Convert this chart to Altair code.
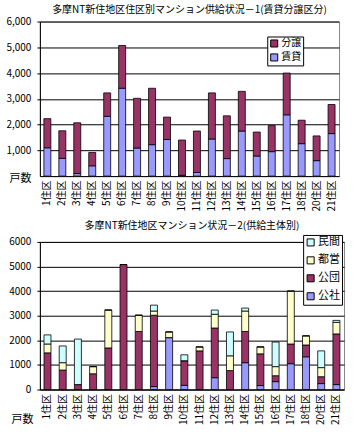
import altair as alt
import pandas as pd

districts = ["1住区", "2住区", "3住区", "4住区", "5住区", "6住区", "7住区", "8住区", "9住区", "10住区",
             "11住区", "12住区", "13住区", "14住区", "15住区", "16住区", "17住区", "18住区", "20住区", "21住区"]

# Chart 1: rental / for-sale
rental = [1100, 690, 100, 400, 2320, 3410, 1090, 1220, 1420, 30, 140, 1440, 680, 1750, 780, 950, 2380, 1260, 600, 1650]
sale = [1130, 1070, 1970, 520, 910, 1660, 1930, 2190, 870, 1370, 1610, 1790, 1660, 1540, 930, 1010, 1620, 910, 960, 1130]

# Chart 2: by supplier
kosha = [0, 0, 0, 0, 0, 0, 0, 120, 2110, 170, 0, 480, 0, 1090, 160, 320, 1050, 1330, 240, 200]
kodan = [1490, 790, 200, 640, 1690, 5080, 2360, 2900, 0, 1000, 1570, 2020, 770, 1270, 1290, 240, 800, 480, 280, 2060]
toei = [360, 300, 0, 290, 1540, 0, 660, 170, 230, 0, 160, 560, 600, 830, 280, 370, 2150, 370, 370, 470]
minkan = [370, 680, 1850, 0, 0, 0, 0, 240, 0, 240, 0, 170, 970, 120, 0, 1000, 0, 0, 680, 80]

FONT = "Noto Sans CJK JP"

rows1 = []
for i, d in enumerate(districts):
    rows1.append({"住区": d, "区分": "賃貸", "戸数": rental[i], "ord": 0})
    rows1.append({"住区": d, "区分": "分譲", "戸数": sale[i], "ord": 1})
df1 = pd.DataFrame(rows1)

rows2 = []
for i, d in enumerate(districts):
    for k, (name, arr) in enumerate([("公社", kosha), ("公団", kodan), ("都営", toei), ("民間", minkan)]):
        rows2.append({"住区": d, "主体": name, "戸数": arr[i], "ord": k})
df2 = pd.DataFrame(rows2)

def legend(x, y, rowpad, size):
    return alt.Legend(orient="none", legendX=x, legendY=y, title=None, strokeColor="black",
                      fillColor="white", padding=2, symbolType="square", symbolSize=50,
                      symbolStrokeColor="black", symbolStrokeWidth=1, labelFont=FONT,
                      labelFontSize=size, labelColor="black", rowPadding=rowpad, labelOffset=2,
                      symbolOffset=0)

xaxis = alt.Axis(title=None, labelAngle=270, labelFont=FONT, labelFontSize=10, labelColor="black",
                 domainColor="black", ticks=False, labelPadding=4)

top = alt.Chart(df1).mark_bar(stroke="black", strokeWidth=0.8, size=7).encode(
    x=alt.X("住区:N", sort=districts, axis=xaxis, scale=alt.Scale(paddingInner=0.5, paddingOuter=0.25)),
    y=alt.Y("sum(戸数):Q", scale=alt.Scale(domain=[0, 6000]),
            axis=alt.Axis(title="戸数", titleAngle=0, titleX=-9, titleY=157, titleAlign="right",
                          titleBaseline="middle", titleFont=FONT, titleFontSize=11, titleFontWeight="normal",
                          titleColor="black", format=",d", values=[1000, 2000, 3000, 4000, 5000, 6000],
                          labelFont=FONT, labelFontSize=10, labelColor="black", grid=True, gridColor="black",
                          gridOpacity=1, domainColor="black", tickColor="black", tickSize=3, labelPadding=6)),
    color=alt.Color("区分:N", scale=alt.Scale(domain=["分譲", "賃貸"], range=["#993366", "#9999FF"]),
                    legend=legend(228, 15, 2, 10)),
    order=alt.Order("ord:Q", sort="ascending"),
).properties(
    width=300, height=155,
    title=alt.TitleParams("多摩NT新住地区住区別マンション供給状況－1(賃貸分譲区分)", font=FONT, fontSize=10,
                          fontWeight="normal", color="black", offset=2),
)

bottom = alt.Chart(df2).mark_bar(stroke="black", strokeWidth=0.8, size=7).encode(
    x=alt.X("住区:N", sort=districts, axis=xaxis, scale=alt.Scale(paddingInner=0.5, paddingOuter=0.25)),
    y=alt.Y("sum(戸数):Q", scale=alt.Scale(domain=[0, 6000]),
            axis=alt.Axis(title="戸数", titleAngle=0, titleX=-7, titleY=178, titleAlign="right",
                          titleBaseline="middle", titleFont=FONT, titleFontSize=11, titleFontWeight="normal",
                          titleColor="black", format="d", values=[0, 1000, 2000, 3000, 4000, 5000, 6000],
                          labelFont=FONT, labelFontSize=10, labelColor="black", grid=True, gridColor="black",
                          gridOpacity=1, domainColor="black", tickColor="black", tickSize=3, labelPadding=6)),
    color=alt.Color("主体:N", scale=alt.Scale(domain=["民間", "都営", "公団", "公社"],
                                              range=["#CCFFFF", "#FFFFCC", "#993366", "#9999FF"]),
                    legend=legend(264, -7, 5, 11)),
    order=alt.Order("ord:Q", sort="ascending"),
).properties(
    width=305, height=148,
    title=alt.TitleParams("多摩NT新住地区マンション状況－2(供給主体別)", font=FONT, fontSize=10,
                          fontWeight="normal", color="black", offset=3),
)

chart = alt.vconcat(top, bottom, spacing=9).resolve_scale(
    color="independent", y="independent", x="independent"
).resolve_axis(y="independent", x="independent").resolve_legend(color="independent").properties(
    padding={"left": 5, "top": 3, "right": 8, "bottom": 2},
    background="white",
).configure_view(stroke="#888888", strokeWidth=1)

chart.save("out.html", embed_options={"renderer": "svg", "actions": False})
